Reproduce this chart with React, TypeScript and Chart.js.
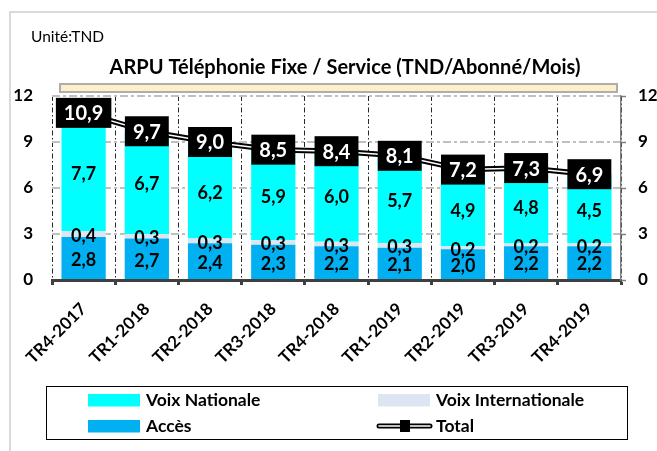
import React, { useEffect, useRef } from "react";
import { Chart, registerables } from "chart.js";

Chart.register(...registerables);

const categories = ["TR4-2017", "TR1-2018", "TR2-2018", "TR3-2018", "TR4-2018", "TR1-2019", "TR2-2019", "TR3-2019", "TR4-2019"];
const acces = [2.8, 2.7, 2.4, 2.3, 2.2, 2.1, 2.0, 2.2, 2.2];
const voixInternationale = [0.4, 0.3, 0.3, 0.3, 0.3, 0.3, 0.2, 0.2, 0.2];
const voixNationale = [7.7, 6.7, 6.2, 5.9, 6.0, 5.7, 4.9, 4.8, 4.5];
const total = [10.9, 9.7, 9.0, 8.5, 8.4, 8.1, 7.2, 7.3, 6.9];
const yTicks = [0, 3, 6, 9, 12];

const TITLE = "ARPU Téléphonie Fixe / Service (TND/Abonné/Mois)";
const UNIT = "Unité:TND";
const FONT = "Lato, 'Open Sans', sans-serif";

const fmt = (v: number) => v.toFixed(1).replace(".", ",");

const decorPlugin = {
  id: "decor",
  beforeDraw(chart: any) {
    const ctx = chart.ctx;
    ctx.save();
    ctx.fillStyle = "#ffffff";
    ctx.fillRect(0, 0, chart.width, chart.height);
    ctx.strokeStyle = "#d9d9d9";
    ctx.lineWidth = 2;
    ctx.beginPath();
    ctx.moveTo(10, chart.height + 5);
    ctx.lineTo(10, 12);
    ctx.lineTo(chart.width + 5, 12);
    ctx.stroke();
    ctx.fillStyle = "#000";
    ctx.font = `15.5px ${FONT}`;
    ctx.textAlign = "left";
    ctx.textBaseline = "middle";
    ctx.fillText(UNIT, 31, 37);
    ctx.font = `bold 20px ${FONT}`;
    ctx.textAlign = "center";
    ctx.fillText(TITLE, 345, 68);
    ctx.fillStyle = "#FDEFC9";
    ctx.fillRect(60, 84, 557, 8);
    ctx.strokeStyle = "#ADADAD";
    ctx.lineWidth = 2;
    ctx.strokeRect(60, 84, 557, 8);
    ctx.restore();
  },
};

const labelsPlugin = {
  id: "valueLabels",
  afterDatasetsDraw(chart: any) {
    const ctx = chart.ctx;
    ctx.save();
    chart.data.datasets.forEach((ds: any, di: number) => {
      const meta = chart.getDatasetMeta(di);
      if (ds.type === "bar") {
        ctx.font = `bold 18px ${FONT}`;
        ctx.fillStyle = "#000";
        ctx.textAlign = "center";
        ctx.textBaseline = "middle";
        meta.data.forEach((el: any, i: number) => {
          const cy = (el.y + el.base) / 2 + 2;
          ctx.fillText(fmt(ds.data[i]), el.x, cy);
        });
      }
    });
    const di = chart.data.datasets.findIndex((d: any) => d.isTotal);
    if (di >= 0) {
      const ds = chart.data.datasets[di];
      const meta = chart.getDatasetMeta(di);
      ctx.font = `bold 20px ${FONT}`;
      ctx.textAlign = "center";
      ctx.textBaseline = "middle";
      meta.data.forEach((el: any, i: number) => {
        const t = fmt(ds.data[i]);
        const w = ctx.measureText(t).width + 16;
        const h = 30;
        ctx.fillStyle = "#000";
        ctx.fillRect(el.x - w / 2, el.y - h / 2, w, h);
        ctx.fillStyle = "#fff";
        ctx.fillText(t, el.x, el.y + 1);
      });
    }
    ctx.restore();
  },
};

const legendPlugin = {
  id: "customLegend",
  afterDraw(chart: any) {
    const ctx = chart.ctx;
    const ds = chart.data.datasets;
    ctx.save();
    ctx.strokeStyle = "#000";
    ctx.lineWidth = 1;
    ctx.strokeRect(46.5, 386.5, 581, 53);
    ctx.font = `bold 17.5px ${FONT}`;
    ctx.fillStyle = "#000";
    ctx.textAlign = "left";
    ctx.textBaseline = "middle";
    const items = [
      { d: ds[4], x: 88, y: 400 },
      { d: ds[3], x: 378, y: 400 },
      { d: ds[2], x: 88, y: 426 },
      { d: ds[1], x: 378, y: 426 },
    ];
    items.forEach((it) => {
      if (it.d.isTotal) {
        ctx.lineCap = "round";
        ctx.strokeStyle = "#000";
        ctx.lineWidth = 5;
        ctx.beginPath();
        ctx.moveTo(it.x + 1, it.y);
        ctx.lineTo(it.x + 52, it.y);
        ctx.stroke();
        ctx.strokeStyle = "#fff";
        ctx.lineWidth = 1.5;
        ctx.beginPath();
        ctx.moveTo(it.x + 1, it.y);
        ctx.lineTo(it.x + 52, it.y);
        ctx.stroke();
        ctx.fillStyle = "#000";
        ctx.fillRect(it.x + 22, it.y - 6, 10, 12);
      } else {
        ctx.fillStyle = it.d.backgroundColor;
        ctx.fillRect(it.x, it.y - 6, 52, 12.5);
      }
      ctx.fillStyle = "#000";
      ctx.fillText(it.d.label, it.x + 58, it.y);
    });
    ctx.restore();
  },
};

export default function App() {
  const ref = useRef<HTMLCanvasElement>(null);
  useEffect(() => {
    if (!ref.current) return;
    const chart = new Chart(ref.current, {
      type: "bar",
      data: {
        labels: categories,
        datasets: [
          {
            type: "line",
            label: "",
            data: total,
            borderColor: "#ffffff",
            borderWidth: 1.5,
            pointRadius: 0,
            order: 0,
            stack: "lineWhite",
            yAxisID: "y",
          } as any,
          {
            type: "line",
            label: "Total",
            isTotal: true,
            data: total,
            borderColor: "#000000",
            backgroundColor: "#000000",
            borderWidth: 5.5,
            pointStyle: "rect",
            pointRadius: 5,
            order: 1,
            stack: "lineBlack",
            yAxisID: "y",
          } as any,
          {
            type: "bar",
            label: "Accès",
            data: acces,
            backgroundColor: "#00B0F0",
            stack: "s",
            order: 2,
            barPercentage: 0.7,
            categoryPercentage: 1,
          },
          {
            type: "bar",
            label: "Voix Internationale",
            data: voixInternationale,
            backgroundColor: "#DCE6F2",
            stack: "s",
            order: 3,
            barPercentage: 0.7,
            categoryPercentage: 1,
          },
          {
            type: "bar",
            label: "Voix Nationale",
            data: voixNationale,
            backgroundColor: "#00FFFF",
            stack: "s",
            order: 4,
            barPercentage: 0.7,
            categoryPercentage: 1,
          },
        ],
      },
      options: {
        animation: false,
        responsive: true,
        maintainAspectRatio: false,
        layout: { padding: { top: 96, left: 0, right: 0, bottom: 0 } },
        plugins: {
          legend: { display: false },
          title: { display: false },
          tooltip: { enabled: false },
        },
        scales: {
          x: {
            stacked: true,
            offset: true,
            afterFit: (s: any) => {
              s.height = 171;
            },
            grid: {
              offset: true,
              color: "#262626",
              lineWidth: 1,
              drawTicks: true,
              tickLength: 5,
              tickWidth: 3,
              tickColor: "#404040",
              tickBorderDash: [],
            },
            border: { display: true, color: "#404040", width: 3, dash: [5, 2.5, 1.5, 2.5] },
            ticks: {
              color: "#000",
              font: { family: FONT, weight: "bold", size: 17 },
              minRotation: 45,
              maxRotation: 45,
              padding: 14,
            },
          },
          y: {
            stacked: true,
            min: 0,
            max: 12,
            afterFit: (s: any) => {
              s.width = 52;
            },
            afterBuildTicks: (s: any) => {
              s.ticks = yTicks.map((v) => ({ value: v }));
            },
            grid: { color: "#C0C0C0", lineWidth: 2, drawTicks: false },
            border: { display: false, dash: [8, 3, 3, 3] },
            ticks: {
              color: "#000",
              font: { family: FONT, weight: "bold", size: 17 },
              padding: 19,
            },
          },
          y2: {
            position: "right",
            min: 0,
            max: 12,
            afterFit: (s: any) => {
              s.width = 36;
            },
            afterBuildTicks: (s: any) => {
              s.ticks = yTicks.map((v) => ({ value: v }));
            },
            grid: {
              drawOnChartArea: false,
              drawTicks: true,
              tickLength: 5,
              tickColor: "#808080",
              tickWidth: 1.5,
            },
            border: { display: true, color: "#808080", width: 1.5 },
            ticks: {
              color: "#000",
              font: { family: FONT, weight: "bold", size: 17 },
              padding: 12,
            },
          },
        },
      } as any,
      plugins: [decorPlugin, labelsPlugin, legendPlugin],
    });
    return () => chart.destroy();
  }, []);
  return (
    <div style={{ position: "fixed", left: 0, top: 0, width: 657, height: 451, background: "#fff" }}>
      <canvas ref={ref} />
    </div>
  );
}
